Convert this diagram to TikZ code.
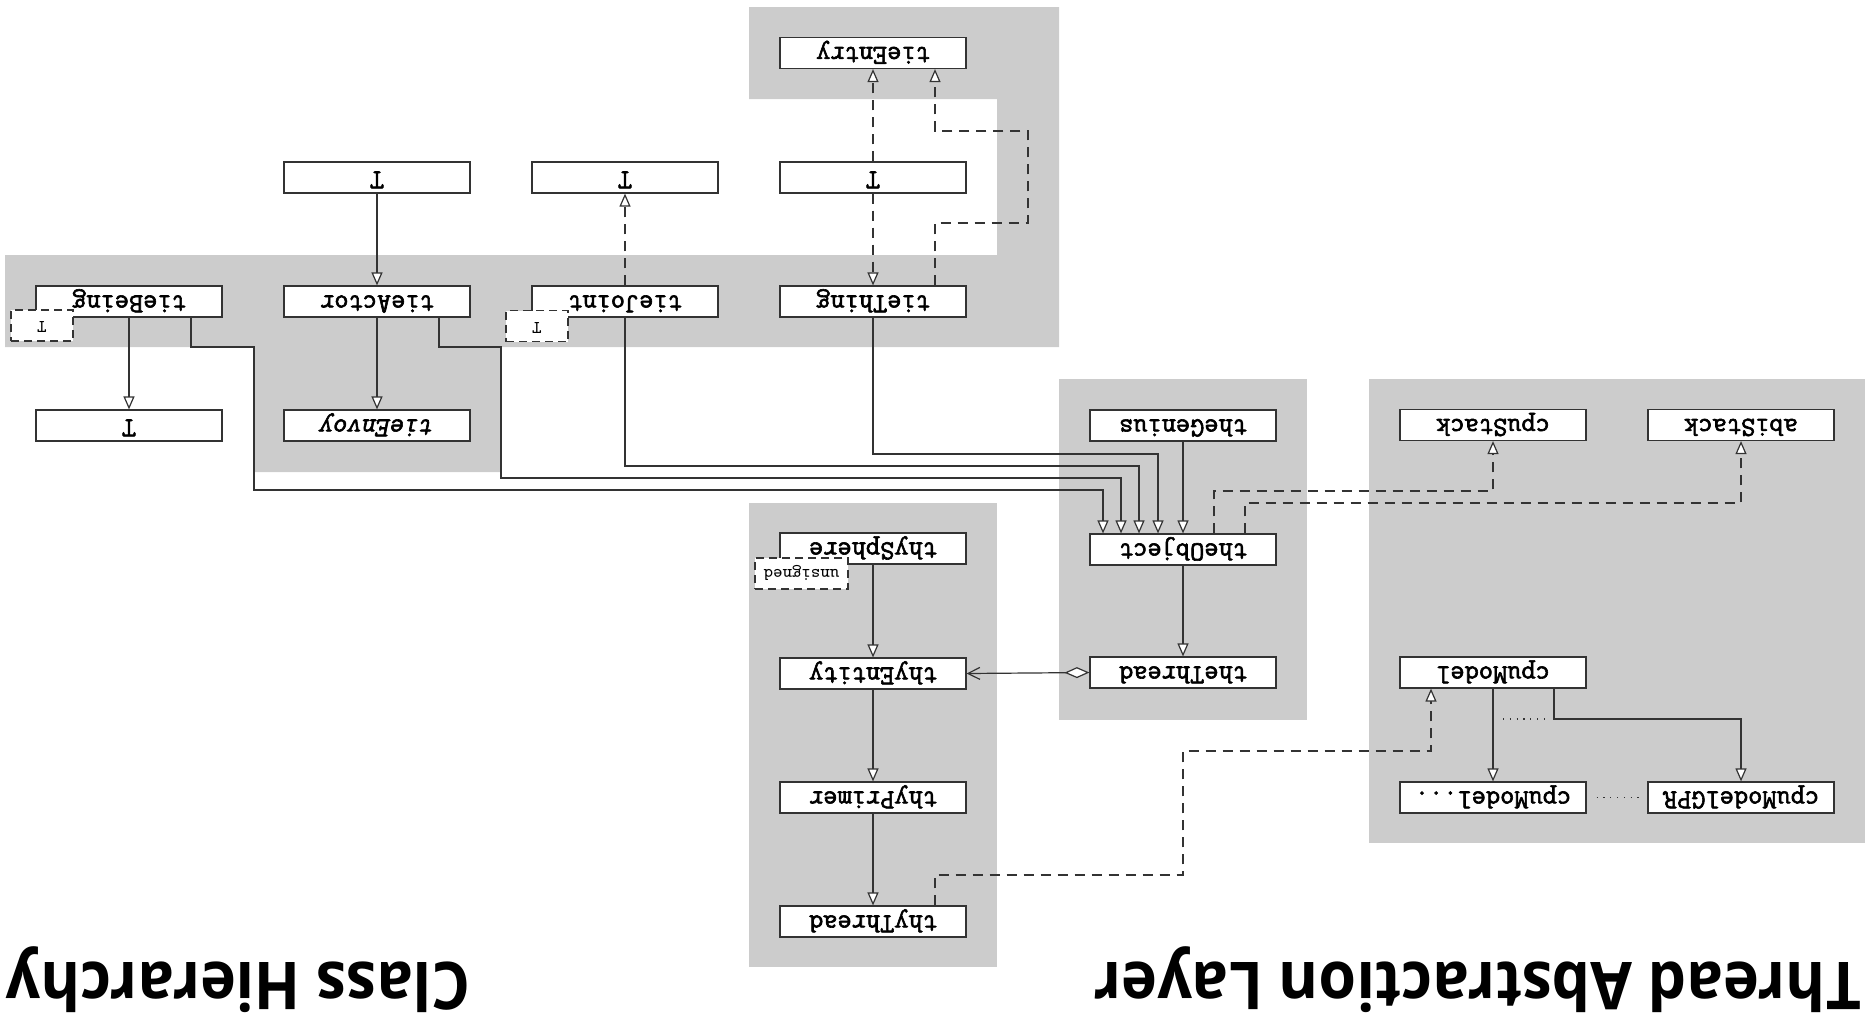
\documentclass[tikz,border=0pt]{standalone}
\usepackage{fontspec}
\usepackage{graphicx}
\newfontfamily\ttlfont{Open Sans}
\newfontfamily\boxfont{Latin Modern Mono}[FakeBold=2.2]
\newfontfamily\boxslfont{Latin Modern Mono}[FakeBold=2.2, FakeSlant=0.2]
\usetikzlibrary{arrows.meta}
\begin{document}
\begin{tikzpicture}[x=0.5pt,y=-0.5pt,
  cls/.style={draw=black!80, line width=0.6pt, fill=white, rotate=180,
    minimum width=93pt, minimum height=15.5pt, inner sep=0pt,
    font=\boxfont\bfseries\fontsize{13.8}{14}\selectfont, text height=8.5pt, text depth=2.5pt},
  tpar/.style={draw=black!80, line width=0.6pt, dash pattern=on 4pt off 2.5pt, fill=white, rotate=180,
    minimum width=31pt, minimum height=15.5pt, inner sep=0pt,
    font=\ttfamily\fontsize{9}{9}\selectfont, text height=5.5pt, text depth=1.5pt},
  conn/.style={draw=black!80, line width=0.6pt},
  dsh/.style={conn, dash pattern=on 5pt off 3.5pt},
  dtt/.style={conn, dash pattern=on 0.6pt off 2.8pt},
  inh/.style={-{Triangle[length=6.5pt,width=5.5pt,fill=white]}},
  agg/.style={{Diamond[length=12.5pt,width=5.5pt,fill=white]}-{Straight Barb[length=6pt,width=6pt]}},
  ttl/.style={rotate=180, inner sep=0pt}
]
\useasboundingbox (0,0) rectangle (1868,1019);
% grey layers
\fill[black!20] (749,7) -- (1059,7) -- (1059,347) -- (501,347) -- (501,472) -- (254,472)
  -- (254,347) -- (5,347) -- (5,255) -- (997,255) -- (997,99) -- (749,99) -- cycle;
\fill[black!20] (1059,379) rectangle (1307,720);
\fill[black!20] (749,503) rectangle (997,967);
\fill[black!20] (1369,379) rectangle (1865,843);

% class boxes
\node[cls] (tieEntry) at (873,53) {tieEntry};
\node[cls] (T1) at (377,177.5) {T};
\node[cls] (T2) at (625,177.5) {T};
\node[cls] (T3) at (873,177.5) {T};
\node[cls] (tieBeing) at (129,301.5) {tieBeing};
\node[cls] (tieActor) at (377,301.5) {tieActor};
\node[cls] (tieJoint) at (625,301.5) {tieJoint};
\node[cls] (tieThing) at (873,301.5) {tieThing};
\node[cls] (Tb) at (129,425.5) {T};
\node[cls] (tieEnvoy) at (377,425.5) {\boxslfont\bfseries tieEnvoy};
\node[cls] (theGenius) at (1183,425.5) {theGenius};
\node[cls] (cpuStack) at (1493,425) {cpuStack};
\node[cls] (abiStack) at (1741,425) {abiStack};
\node[cls] (theObject) at (1183,549.5) {theObject};
\node[cls] (thySphere) at (873,548.5) {thySphere};
\node[cls] (thyEntity) at (873,673.5) {thyEntity};
\node[cls] (theThread) at (1183,672.5) {theThread};
\node[cls] (cpuModel) at (1493,672.5) {cpuModel};
\node[cls] (thyPrimer) at (873,797.5) {thyPrimer};
\node[cls] (cpuModeldots) at (1493,797.5) {cpuModel...};
\node[cls] (cpuModelGPR) at (1741,797.5) {cpuModelGPR};
\node[cls] (thyThread) at (873,921.5) {thyThread};

% template parameters
\node[tpar] (pBeing) at (42,325.5) {T};
\node[tpar] (pJoint) at (537,326) {T};
\node[tpar, minimum width=46.5pt] (pSphere) at (801.5,573.5) {unsigned};

% connectors
\draw[dsh, inh] (T3.south) -- (tieEntry.north);
\draw[dsh, inh] (T3.north) -- (tieThing.south);
\draw[dsh, inh] ([xshift=31pt]tieThing.south) |- (1028,223) |- (935,131) -- ([xshift=31pt]tieEntry.north);
\draw[conn, inh] (T1.north) -- (tieActor.south);
\draw[dsh, inh] (tieJoint.south) -- (T2.north);
\draw[conn, inh] (tieBeing.north) -- (Tb.south);
\draw[conn, inh] (tieActor.north) -- (tieEnvoy.south);
\draw[conn, inh] ([xshift=31pt]tieBeing.north) |- (254,347) |- (1103,490) -- ([xshift=-40pt]theObject.south);
\draw[conn, inh] ([xshift=31pt]tieActor.north) |- (501,347) |- (1121,478) -- ([xshift=-31pt]theObject.south);
\draw[conn, inh] (tieJoint.north) |- (1139,466) -- ([xshift=-22pt]theObject.south);
\draw[conn, inh] (tieThing.north) |- (1158,454) -- ([xshift=-12.5pt]theObject.south);
\draw[conn, inh] (theGenius.north) -- (theObject.south);
\draw[conn, inh] (theObject.north) -- (theThread.south);
\draw[dsh, inh] ([xshift=15.5pt]theObject.south) |- (1493,491) -- (cpuStack.north);
\draw[dsh, inh] ([xshift=31pt]theObject.south) |- (1741,503) -- (abiStack.north);
\draw[conn, agg] (theThread.east) -- (thyEntity.west);
\draw[conn, inh] (thySphere.north) -- (thyEntity.south);
\draw[conn, inh] (thyEntity.north) -- (thyPrimer.south);
\draw[conn, inh] (thyPrimer.north) -- (thyThread.south);
\draw[dsh, inh] ([xshift=31pt]thyThread.south) |- (1183,875) |- (1431,751) -- ([xshift=-31pt]cpuModel.north);
\draw[conn, inh] (cpuModel.north) -- (cpuModeldots.south);
\draw[conn, inh] ([xshift=30.5pt]cpuModel.north) |- (1741,719) -- (cpuModelGPR.south);
\draw[dtt] (1503,719) -- (1547,719);
\draw[dtt, shorten <=5pt, shorten >=3.5pt] (cpuModeldots.west) -- (cpuModelGPR.east);

% titles
\node[ttl] (ttlTAL) at (1477.5,980) {\resizebox*{383.5pt}{33pt}{\ttlfont\bfseries Thread Abstraction Layer}};
\node[ttl] (ttlCH) at (238,980) {\resizebox*{232pt}{33pt}{\ttlfont\bfseries Class Hierarchy}};
\end{tikzpicture}
\end{document}
